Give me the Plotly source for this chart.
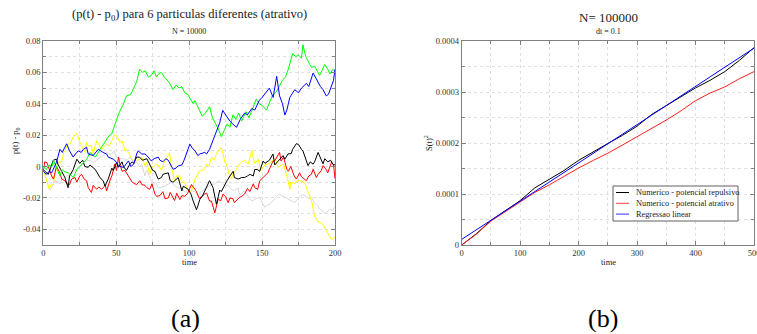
import plotly.graph_objects as go

# ---------------- data: panel (a) ----------------
green = [(0,0.000),(2,-0.002),(4,0.001),(6,0.000),(7,0.004),(9,-0.001),(11.4,-0.006),(13,-0.002),(14,-0.003),(17,-0.004),(20.6,-0.007),(23,-0.002),(25,0.000),(27.5,0.003),(30,0.005),(32,0.009),(35.7,0.006),(39,0.011),(42.5,0.0155),(45,0.0195),(47,0.021),(49,0.027),(51.6,0.0335),(55,0.040),(57,0.045),(60,0.046),(62,0.050),(64,0.054),(66,0.062),(68,0.060),(70,0.061),(72,0.057),(74,0.058),(76,0.061),(77.6,0.057),(79,0.059),(81,0.060),(83,0.057),(86,0.054),(89,0.049),(91,0.052),(93,0.050),(95,0.051),(97,0.047),(99,0.046),(102.8,0.040),(104,0.042),(106,0.038),(109,0.032),(111,0.034),(114,0.038),(116,0.031),(118.7,0.026),(120,0.024),(122,0.019),(124,0.023),(126,0.027),(128,0.025),(130,0.033),(132,0.030),(134,0.034),(136,0.029),(139,0.035),(141,0.031),(143,0.036),(146,0.043),(148,0.040),(150,0.039),(153,0.036),(155,0.041),(157,0.045),(160,0.048),(162,0.052),(164,0.055),(166,0.057),(168,0.062),(171,0.072),(173,0.070),(175,0.071),(177,0.069),(178,0.0776),(180,0.070),(182.7,0.065),(184,0.063),(186,0.064),(189.5,0.058),(191,0.061),(193,0.065),(195,0.062),(196.5,0.059),(198.5,0.062),(200,0.061)]

blue = [(0,-0.003),(2,-0.005),(4,-0.003),(5.7,-0.004),(9,0.0026),(11.4,0.011),(13,0.009),(14.8,0.012),(16,0.0145),(18,0.010),(20.5,0.006),(22,0.008),(24,0.010),(26,0.009),(27.5,0.011),(29.7,0.0123),(30.8,0.008),(34.2,0.007),(36,0.009),(37.7,0.011),(41,0.009),(43.4,0.008),(44.5,0.006),(48,0.0047),(50,0.003),(51.6,0.0004),(55,-0.0006),(56.5,0.001),(58.4,0.0036),(60,0.000),(62,0.0015),(64,0.008),(65,0.010),(67.5,0.008),(69.7,0.008),(71,0.007),(74,0.0036),(76,0.005),(78.8,0.006),(80,0.004),(82,0.003),(84,0.005),(85.7,0.004),(89,-0.0017),(91,-0.001),(92.5,0.0004),(95,0.001),(96.5,0.004),(98.2,0.009),(100.5,0.0143),(102,0.012),(104,0.010),(106,0.007),(107.3,0.008),(110.7,0.009),(112,0.008),(114,0.011),(116.4,0.0165),(118.7,0.023),(121,0.028),(123,0.0358),(125,0.033),(127.8,0.029),(130,0.027),(132.5,0.025),(135,0.030),(138,0.034),(140,0.033),(143,0.037),(145,0.036),(148,0.042),(150,0.044),(152,0.0467),(155,0.050),(157.6,0.044),(160,0.0575),(162,0.045),(164,0.040),(165.6,0.0328),(167,0.036),(169,0.044),(172.4,0.049),(175,0.047),(177,0.050),(180.4,0.053),(182,0.051),(185,0.0596),(186.5,0.057),(188.4,0.054),(190,0.051),(191.8,0.049),(194,0.045),(195.5,0.046),(197.6,0.051),(199,0.055),(200,0.062)]

black = [(0,-0.002),(2,-0.004),(3.4,-0.005),(5,-0.001),(6.8,0.004),(9,0.0047),(10,0.0015),(12,-0.002),(13.7,-0.005),(14.8,-0.007),(17,-0.0135),(18,-0.006),(20.5,-0.002),(23,0.0047),(25,0.002),(27,0.004),(28.5,0.000),(30.8,-0.0005),(32,0.001),(35.4,-0.0017),(37,-0.004),(38.8,-0.007),(41,-0.009),(42.3,-0.0124),(44.5,-0.008),(47,-0.001),(48,-0.0025),(50.2,0.0026),(51.4,-0.0005),(54,0.003),(55,0.000),(57,-0.0025),(59,0.001),(61,0.003),(62,0.002),(64,0.006),(66,0.006),(68,0.004),(71,0.005),(73,0.001),(75,-0.0025),(76.5,-0.003),(78.8,-0.008),(81,-0.007),(82,-0.005),(85.7,-0.004),(87,-0.009),(89,-0.010),(91.4,-0.008),(92.5,-0.007),(95,-0.0155),(96,-0.0125),(99.3,-0.0145),(101,-0.017),(102.8,-0.022),(105,-0.0275),(106,-0.025),(107.3,-0.021),(109,-0.019),(110.7,-0.0155),(112,-0.012),(114,-0.009),(116.4,-0.0135),(118.7,-0.024),(120,-0.019),(121,-0.015),(122,-0.016),(124.5,-0.011),(126,-0.009),(128,-0.006),(130.2,-0.003),(131,-0.007),(133.6,-0.008),(136,-0.007),(138,-0.007),(140,-0.006),(141.6,-0.005),(144,-0.006),(145,-0.0018),(147,-0.002),(148.4,-0.003),(150.7,0.0035),(152,0.002),(155,0.004),(157.5,0.008),(158.7,0.001),(161,0.0035),(162,0.004),(164.4,0.007),(165.6,0.0047),(167.8,0.008),(170,0.0083),(171,0.011),(173.5,0.0146),(175,0.014),(177,0.011),(178,0.010),(181.5,0.0006),(183,0.003),(185,0.0015),(186,0.003),(188.4,0.009),(190,0.006),(191.8,0.0017),(193,0.005),(195,0.003),(197,0.004),(198.5,0.0015),(200,0.001)]

red = [(0,-0.003),(1,0.003),(2.5,0.0026),(4,-0.002),(5.7,-0.006),(7,-0.008),(9,0.000),(11.4,-0.004),(12.6,-0.008),(14.8,-0.009),(16,-0.011),(18,-0.0115),(19.4,-0.008),(21.7,-0.007),(23,-0.010),(25,-0.006),(26.3,-0.005),(28,-0.008),(29.7,-0.009),(30.8,-0.0135),(33,-0.0165),(34.2,-0.012),(36.6,-0.0145),(38,-0.013),(40,-0.0145),(42.5,-0.012),(43.4,-0.0155),(46,-0.008),(47,-0.006),(49,0.0015),(50.2,-0.0025),(51.6,0.006),(52.5,0.0015),(54,-0.003),(56,-0.0025),(57,-0.004),(59.4,-0.008),(61,-0.010),(62.8,-0.011),(64,-0.0115),(66.2,-0.009),(67.5,-0.0115),(69.7,-0.012),(71,-0.0135),(73,-0.0145),(74.5,-0.011),(76.5,-0.0175),(77.7,-0.019),(80,-0.0185),(82,-0.016),(83.4,-0.0205),(85.7,-0.020),(87,-0.0165),(90,-0.0216),(91.5,-0.017),(93.6,-0.021),(95,-0.0185),(97,-0.019),(99,-0.017),(100.5,-0.0135),(101.6,-0.0115),(104,-0.0145),(105,-0.016),(107,-0.0205),(108.5,-0.019),(110.7,-0.0175),(112,-0.017),(114,-0.022),(115.3,-0.022),(117.6,-0.0295),(118.5,-0.026),(120,-0.0205),(121.5,-0.022),(123.3,-0.0175),(125,-0.019),(126.7,-0.023),(128,-0.020),(130,-0.0205),(131,-0.023),(133.6,-0.0205),(134.7,-0.0195),(136,-0.019),(138,-0.0175),(140,-0.014),(141.6,-0.016),(144,-0.011),(145,-0.0135),(147,-0.0145),(148.4,-0.009),(150.7,-0.007),(152,-0.006),(154,-0.004),(155,-0.0017),(157.5,0.0035),(158.7,0.0037),(160,0.006),(162,0.009),(163,0.0035),(164.7,0.006),(167,-0.0017),(168,-0.003),(169.7,0.000),(172,-0.006),(173.5,-0.008),(175.8,-0.004),(177,-0.0065),(178.9,-0.0077),(180.4,-0.009),(182,-0.006),(183.8,-0.005),(185,-0.0017),(187.2,-0.007),(188.4,-0.005),(190.6,-0.0025),(191.8,0.0006),(194,-0.002),(195,-0.004),(197.6,0.0027),(199,0.001),(200,-0.0077)]

yellow = [(0,-0.003),(1,-0.005),(3,-0.011),(4,-0.0145),(5.7,-0.011),(6.8,-0.012),(8,-0.005),(10,0.0026),(12.6,0.003),(14,0.009),(15,0.010),(17,0.0145),(18.3,0.0144),(20.6,0.019),(23,0.021),(25,0.0155),(26.3,0.0134),(28.5,0.009),(29.7,0.0155),(30.8,0.013),(33,0.0134),(34.2,0.008),(36.6,0.0165),(37.7,0.0145),(40,0.011),(43.4,0.0145),(45,0.013),(47,0.0165),(48.5,0.0197),(50.2,0.0195),(52.5,0.0155),(54,0.0165),(56,0.010),(57,0.011),(59.4,0.007),(61,0.0045),(63,0.0026),(64.5,0.004),(66.2,0.0047),(67.5,0.006),(69.7,0.0004),(71,0.003),(73,-0.005),(74.3,-0.0005),(76,0.000),(77.6,0.0015),(78.8,0.001),(81,-0.0025),(83.4,0.004),(85.7,0.0068),(86.5,0.009),(88,-0.001),(90,-0.009),(91.4,-0.006),(93.6,-0.006),(94.8,-0.010),(97,-0.010),(98.2,-0.0135),(100.5,-0.0165),(101.6,-0.0155),(104,-0.008),(105,-0.006),(107,-0.003),(108.5,-0.0025),(110,-0.002),(112,0.0015),(113.5,0.000),(115.3,0.0058),(117,0.004),(118.7,0.008),(120,0.010),(122,0.012),(123.3,0.008),(124.5,0.0026),(125.6,0.0015),(128,-0.007),(129,-0.008),(130,-0.005),(131.3,-0.003),(133.5,-0.0005),(134.7,0.0017),(136,0.003),(138,0.004),(140.5,0.0015),(143,0.0103),(144,0.005),(145,0.002),(147.3,0.0047),(149,-0.0025),(150.7,-0.0005),(152,0.001),(154,0.0015),(156,0.003),(157.6,0.004),(159,0.005),(161,-0.0005),(163,0.001),(164.7,0.0017),(166,-0.003),(167,-0.006),(169,-0.0145),(169.7,-0.010),(172.4,-0.011),(174,-0.009),(175.8,-0.009),(177.5,-0.010),(179.3,-0.0105),(181.5,-0.016),(183,-0.019),(184,-0.022),(185,-0.027),(186,-0.0315),(188.4,-0.035),(190.6,-0.036),(192,-0.037),(193,-0.039),(195,-0.043),(196,-0.044),(197.6,-0.0465),(199,-0.046),(200,-0.0446)]

gray = [(0,-0.003),(2,-0.008),(4.6,-0.015),(6,-0.013),(8,-0.009),(11.4,-0.011),(13,-0.008),(16,-0.006),(18,-0.005),(20.5,-0.004),(23,-0.001),(25,0.000),(27.5,0.002),(29.7,0.0036),(32,0.004),(34.2,0.0026),(36.6,0.004),(39,0.006),(41,0.007),(43.4,0.009),(45,0.008),(47,0.008),(48.5,0.010),(50.2,0.006),(52.5,0.005),(55,0.005),(57,0.004),(59.4,0.006),(61.6,0.003),(64,0.0026),(66,0.000),(67.5,0.0015),(69.7,-0.006),(71,-0.002),(73,-0.007),(75.3,-0.011),(77,-0.010),(78.8,-0.0135),(80,-0.0135),(83.4,-0.0125),(86,-0.011),(88,-0.010),(90,-0.012),(92.5,-0.0135),(95,-0.014),(97,-0.0165),(99,-0.015),(101.6,-0.0155),(104,-0.016),(106,-0.0185),(108,-0.016),(110.7,-0.0145),(113,-0.013),(115.3,-0.0115),(118,-0.011),(120,-0.009),(122,-0.010),(124.5,-0.012),(127,-0.012),(129,-0.0145),(131,-0.0155),(133.6,-0.0135),(134.7,-0.0185),(136,-0.017),(138,-0.0155),(140,-0.018),(141.6,-0.0196),(143,-0.022),(145,-0.021),(148.4,-0.0195),(150,-0.023),(152,-0.026),(153,-0.025),(155,-0.024),(158.7,-0.0205),(160,-0.019),(162,-0.0175),(164,-0.019),(165.6,-0.0195),(169,-0.0215),(172.4,-0.023),(174,-0.021),(175.8,-0.0195),(177.5,-0.018),(179.3,-0.0185),(182.7,-0.0205),(184,-0.020),(186,-0.023),(188,-0.025),(189.5,-0.027),(191,-0.028),(193,-0.030),(194.5,-0.029),(196.5,-0.027),(198,-0.028),(200,-0.0255)]

# ---------------- data: panel (b) ----------------
time_b = [0, 25, 50, 75, 100, 125, 150, 175, 200, 225, 250, 275, 300, 325, 350, 375, 400, 425, 450, 475, 500]
s2_repulsivo = [0, 2.2e-5, 4.8e-5, 6.7e-5, 8.7e-5, 11.2e-5, 12.9e-5, 14.6e-5, 16.6e-5, 18.3e-5, 19.9e-5, 21.5e-5, 23.3e-5, 25.6e-5, 27.3e-5, 29.0e-5, 30.8e-5, 32.3e-5, 34.0e-5, 36.2e-5, 38.7e-5]
s2_atrativo = [0, 2.1e-5, 4.7e-5, 6.6e-5, 8.5e-5, 10.3e-5, 11.8e-5, 13.5e-5, 15.1e-5, 16.6e-5, 18.0e-5, 19.6e-5, 21.2e-5, 22.8e-5, 24.5e-5, 26.3e-5, 28.3e-5, 29.8e-5, 31.0e-5, 32.6e-5, 34.0e-5]
reg_t = [0, 500]
reg_s2 = [1.1e-5, 3.86e-4]

legend_names = ["Numerico - potencial repulsivo", "Numerico - potencial atrativo", "Regressao linear"]
legend_colors = ["#000000", "#ff4040", "#3030ff"]

ytick_a = [-0.04, -0.02, 0, 0.02, 0.04, 0.06, 0.08]
ytick_a_text = ["-0.04", "-0.02", "0", "0.02", "0.04", "0.06", "0.08"]
ytick_b = [0, 0.0001, 0.0002, 0.0003, 0.0004]
ytick_b_text = ["0", "0.0001", "0.0002", "0.0003", "0.0004"]

W, H = 757, 334
SERIF = "Liberation Serif, Times New Roman, DejaVu Serif, serif"

fig = go.Figure()

for series, col in [(gray, "#d8d8d8"), (yellow, "#ffff00"), (red, "#ff0000"),
                    (black, "#000000"), (green, "#00ff00"), (blue, "#0000ff")]:
    fig.add_trace(go.Scatter(x=[p[0] for p in series], y=[p[1] for p in series],
                             mode="lines", line=dict(color=col, width=1),
                             xaxis="x", yaxis="y", showlegend=False))

fig.add_trace(go.Scatter(x=time_b, y=s2_repulsivo, mode="lines", name=legend_names[0],
                         line=dict(color="#000000", width=1), xaxis="x2", yaxis="y2", showlegend=False))
fig.add_trace(go.Scatter(x=time_b, y=s2_atrativo, mode="lines", name=legend_names[1],
                         line=dict(color="#ff2020", width=1), xaxis="x2", yaxis="y2", showlegend=False))
fig.add_trace(go.Scatter(x=reg_t, y=reg_s2, mode="lines", name=legend_names[2],
                         line=dict(color="#0000ff", width=1), xaxis="x2", yaxis="y2", showlegend=False))

GRID = "#e0e0e0"
def minor(dt):
    return dict(ticks="inside", ticklen=3, tickcolor="#808080", dtick=dt, tick0=0,
                showgrid=True, gridcolor=GRID, griddash="3px,3px")

def ax(**kw):
    d = dict(showline=True, linecolor="#808080", linewidth=1, mirror="ticks",
             ticks="inside", ticklen=4, tickcolor="#808080",
             showgrid=True, gridcolor=GRID, griddash="3px,3px", gridwidth=1,
             zeroline=False, tickfont=dict(family=SERIF, size=8.5, color="#333333"),
             automargin=False)
    d.update(kw)
    return d

ydom = [(H - 245) / H, (H - 41) / H]
fig.update_layout(
    width=W, height=H, margin=dict(l=0, r=0, t=0, b=0),
    paper_bgcolor="white", plot_bgcolor="white",
    xaxis=ax(domain=[43.3 / W, 335 / W], range=[0, 200], tickvals=[0, 50, 100, 150, 200],
             minor=minor(25), anchor="y"),
    yaxis=ax(domain=ydom, range=[-0.05, 0.08], tickvals=ytick_a, ticktext=ytick_a_text,
             minor=minor(0.01), anchor="x"),
    xaxis2=ax(domain=[461.7 / W, 754 / W], range=[0, 500], tickvals=[0, 100, 200, 300, 400, 500],
              minor=minor(50), anchor="y2", ticklabeloverflow="allow"),
    yaxis2=ax(domain=ydom, range=[0, 0.0004], tickvals=ytick_b, ticktext=ytick_b_text,
              minor=minor(0.00005), anchor="x2"),
    showlegend=False,
)

def ann(text, px, py, size, angle=0, color="#222222", xanchor="center"):
    fig.add_annotation(text=text, x=px / W, y=(H - py) / H, xref="paper", yref="paper",
                       showarrow=False, xanchor=xanchor, yanchor="middle", textangle=angle,
                       font=dict(family=SERIF, size=size, color=color))

ann("(p(t) - p<sub>0</sub>) para 6 particulas diferentes (atrativo)", 189, 15, 12.5)
ann("N = 10000", 189, 32, 8)
ann("N= 100000", 608, 18, 13)
ann("dt = 0.1", 608, 32, 8)
ann("time", 189, 262, 8.5)
ann("time", 608, 262, 8.5)
ann("p(t) - p<sub>0</sub>", 15, 141, 8.5, angle=-90)
ann("S(t)<sup>2</sup>", 428, 143, 8.5, angle=-90)
ann("(a)", 185, 318, 26, color="#000000")
ann("(b)", 603, 318, 26, color="#000000")

# legend box for panel (b)
fig.add_shape(type="rect", xref="paper", yref="paper",
              x0=613 / W, x1=738 / W, y0=(H - 221) / H, y1=(H - 186) / H,
              line=dict(color="#606060", width=1), fillcolor="white", layer="above")
for i, (name, col) in enumerate(zip(legend_names, legend_colors)):
    ry = 192.5 + i * 10.8
    fig.add_shape(type="line", xref="paper", yref="paper",
                  x0=616 / W, x1=629 / W, y0=(H - ry) / H, y1=(H - ry) / H,
                  line=dict(color=col, width=1), layer="above")
    ann(name, 634, ry, 8.3, xanchor="left")

fig.write_html("out.html")
